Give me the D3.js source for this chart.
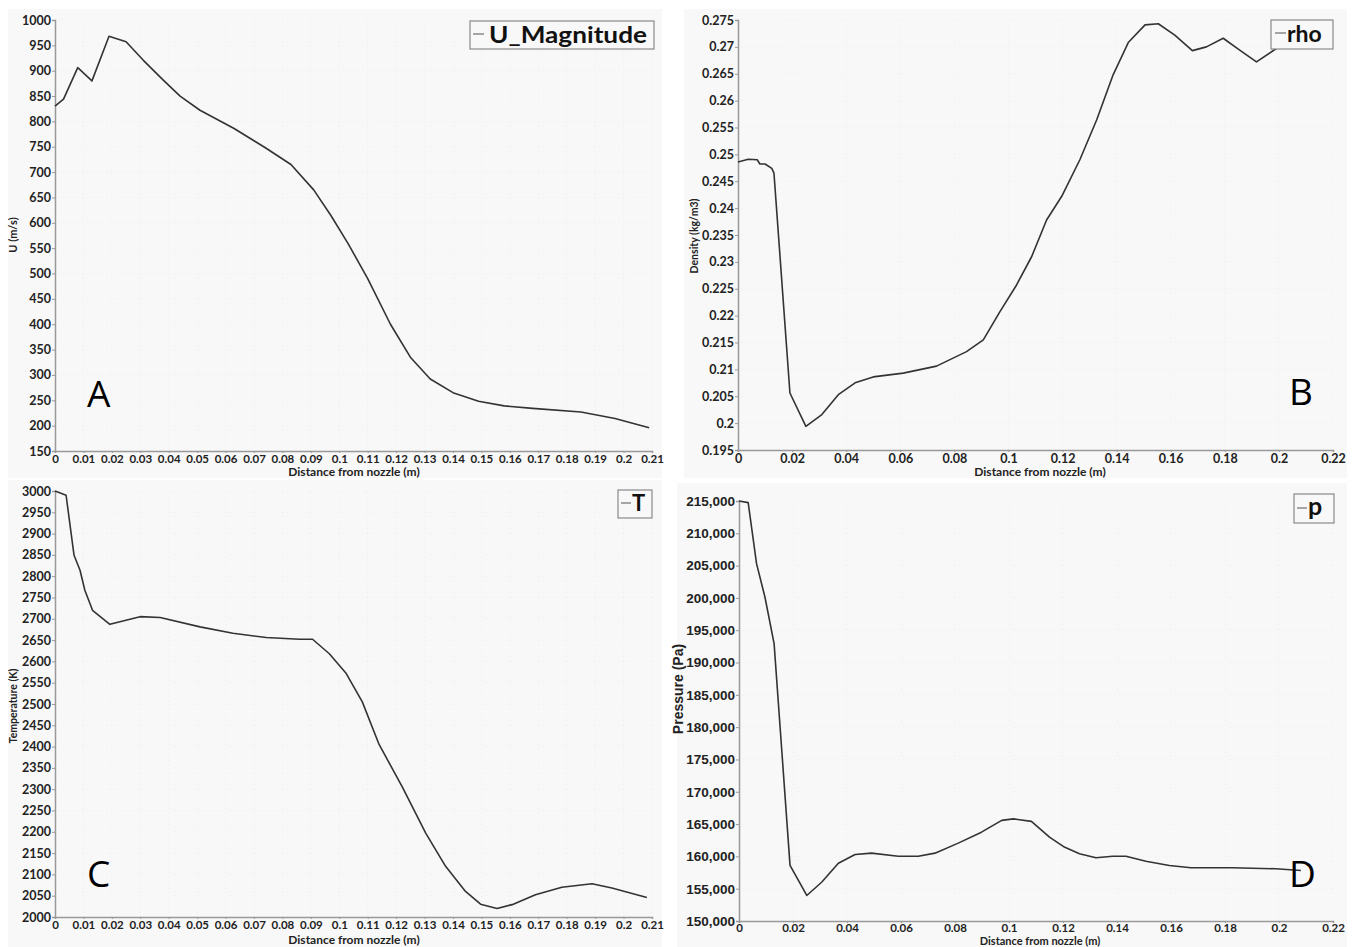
<!DOCTYPE html>
<html>
<head>
<meta charset="utf-8">
<script src="https://cdn.jsdelivr.net/npm/d3@7"></script>
<style>
  body { margin: 0; background: #fff; }
  svg { display: block; }
  .tick text { font-family: Lato, sans-serif; font-weight: bold; fill: #222; }
  .domain, .tick line { stroke: #999; }
</style>
</head>
<body>
<svg width="1357" height="947"></svg>
<script>
// Velocity magnitude (A)
const uX = [0, 0.003, 0.008, 0.013, 0.019, 0.025, 0.031, 0.038, 0.044, 0.051, 0.063, 0.074, 0.083, 0.091, 0.097, 0.103, 0.110, 0.118, 0.125, 0.132, 0.140, 0.149, 0.158, 0.168, 0.185, 0.197, 0.209];
const uVal = [830, 844, 906, 880, 968, 957, 921, 882, 850, 822, 786, 748, 715, 665, 615, 560, 490, 400, 335, 292, 265, 248, 239, 234, 227, 214, 196];

// Density (B)
const rhoX = [0, 0.0038, 0.0071, 0.0081, 0.010, 0.0125, 0.0133, 0.0192, 0.0251, 0.031, 0.0371, 0.0433, 0.050, 0.0611, 0.0734, 0.0845, 0.0907, 0.0968, 0.103, 0.1086, 0.1141, 0.1197, 0.1264, 0.1326, 0.1387, 0.1443, 0.1505, 0.1554, 0.1615, 0.168, 0.1732, 0.1794, 0.1855, 0.1917, 0.1991, 0.209];
const rhoVal = [0.2486, 0.2491, 0.249, 0.2482, 0.2482, 0.2474, 0.2465, 0.2056, 0.1994, 0.2016, 0.2053, 0.2075, 0.2086, 0.2093, 0.2106, 0.2133, 0.2155, 0.2207, 0.2257, 0.231, 0.2378, 0.2422, 0.249, 0.2564, 0.2648, 0.2708, 0.2741, 0.2743, 0.2722, 0.2693, 0.270, 0.2716, 0.2694, 0.2672, 0.2697, 0.2715];

// Temperature (C)
const tX = [0, 0.0039, 0.0067, 0.0088, 0.0105, 0.0132, 0.0193, 0.0299, 0.037, 0.051, 0.0626, 0.0743, 0.086, 0.0906, 0.0965, 0.1023, 0.1081, 0.114, 0.1222, 0.1304, 0.1374, 0.1444, 0.1497, 0.1555, 0.1608, 0.169, 0.1783, 0.1889, 0.1959, 0.2082];
const tVal = [3000, 2990, 2849, 2814, 2767, 2720, 2687, 2705, 2703, 2681, 2666, 2656, 2652, 2652, 2618, 2573, 2505, 2405, 2305, 2197, 2119, 2060, 2030, 2020, 2029, 2052, 2070, 2078, 2068, 2046];

// Pressure (D)
const pX = [0, 0.0034, 0.0065, 0.0096, 0.013, 0.0189, 0.0251, 0.0306, 0.0368, 0.043, 0.0491, 0.059, 0.0664, 0.0726, 0.0812, 0.0898, 0.0973, 0.1016, 0.1083, 0.115, 0.1205, 0.1261, 0.1322, 0.1384, 0.1433, 0.1507, 0.1594, 0.1674, 0.1828, 0.1988, 0.2081];
const pVal = [215000, 214750, 205300, 200140, 192930, 158600, 153950, 156000, 158950, 160300, 160500, 160030, 160030, 160500, 162050, 163750, 165570, 165800, 165420, 162990, 161440, 160400, 159780, 160030, 160030, 159260, 158600, 158240, 158240, 158080, 157820];

// tick values
const ticks21 = d3.range(0, 22).map(i => i / 100);
const ticks22 = d3.range(0, 12).map(i => i * 2 / 100);
const uTicks = d3.range(150, 1001, 50);
const rhoTicks = d3.range(0, 17).map(i => 0.195 + i * 0.005);
const tTicks = d3.range(2000, 3001, 50);
const pTicks = d3.range(150000, 215001, 5000);

const svg = d3.select("svg");
const bg = "#f8f8f8";

function drawPanel(c) {
  const g = svg.append("g");
  g.append("rect").attr("x", c.box[0]).attr("y", c.box[1])
    .attr("width", c.box[2] - c.box[0]).attr("height", c.box[3] - c.box[1])
    .attr("fill", bg);

  const x = d3.scaleLinear().domain(c.xDomain).range(c.xRange);
  const y = d3.scaleLinear().domain(c.yDomain).range(c.yRange);

  // faint grid
  g.append("g").selectAll("line").data(c.xTicks.slice(1)).join("line")
    .attr("x1", d => x(d)).attr("x2", d => x(d))
    .attr("y1", c.yRange[0]).attr("y2", c.yRange[1])
    .attr("stroke", "#eeeeee").attr("stroke-dasharray", "1,3");
  g.append("g").selectAll("line").data(c.yTicks.slice(1)).join("line")
    .attr("x1", c.xRange[0]).attr("x2", c.xRange[1])
    .attr("y1", d => y(d)).attr("y2", d => y(d))
    .attr("stroke", "#eeeeee").attr("stroke-dasharray", "1,3");

  const xa = g.append("g").attr("transform", `translate(0,${c.yRange[0]})`)
    .call(d3.axisBottom(x).tickValues(c.xTicks).tickSize(2).tickPadding(c.xPad || 2)
      .tickFormat(d => String(+d.toFixed(3))));
  xa.selectAll(".tick text").attr("font-size", c.xFont || 12.5);
  xa.select(".domain").attr("stroke-width", 1.5);

  const ya = g.append("g").attr("transform", `translate(${c.xRange[0]},0)`)
    .call(d3.axisLeft(y).tickValues(c.yTicks).tickSize(3).tickPadding(1)
      .tickFormat(c.yFormat));
  ya.select(".domain").attr("stroke-width", 1.5);
  ya.selectAll(".tick text").attr("font-size", c.yFont || 12.5)
    .style("font-family", c.yFamily || null);

  // line
  const pts = c.xs.map((v, i) => [v, c.ys[i]]);
  g.append("path").datum(pts)
    .attr("d", d3.line().x(d => x(d[0])).y(d => y(d[1])))
    .attr("fill", "none").attr("stroke", "#333").attr("stroke-width", 1.6)
    .attr("stroke-linejoin", "round");

  // titles
  g.append("text").attr("x", c.xTitle[0]).attr("y", c.xTitle[1])
    .attr("text-anchor", "middle").attr("font-family", "Lato, sans-serif")
    .attr("font-weight", "bold").attr("font-size", c.xTitleSize || 12).attr("fill", "#222")
    .text("Distance from nozzle (m)");
  g.append("text")
    .attr("transform", `translate(${c.yTitle[0]},${c.yTitle[1]}) rotate(-90)`)
    .attr("text-anchor", "middle")
    .attr("font-family", c.yTitleFamily || "Lato, sans-serif")
    .attr("font-weight", "bold").attr("font-size", c.yTitleSize || 11).attr("fill", "#222")
    .text(c.yLabel);

  // legend
  const L = c.legend;
  g.append("rect").attr("x", L.box[0]).attr("y", L.box[1])
    .attr("width", L.box[2] - L.box[0]).attr("height", L.box[3] - L.box[1])
    .attr("fill", bg).attr("stroke", "#8a8a8a").attr("stroke-width", 1.2);
  g.append("line").attr("x1", L.line[0]).attr("x2", L.line[1])
    .attr("y1", L.line[2]).attr("y2", L.line[2])
    .attr("stroke", "#888").attr("stroke-width", 1.5);
  const lt = g.append("text").attr("x", L.text[0]).attr("y", L.text[1])
    .attr("font-family", "Lato, sans-serif").attr("font-weight", "bold")
    .attr("font-size", L.size).attr("fill", "#111")
    .text(L.label);
  if (L.width) lt.attr("textLength", L.width).attr("lengthAdjust", "spacingAndGlyphs");

  // panel letter
  g.append("text").attr("x", c.letter[0]).attr("y", c.letter[1])
    .attr("font-family", "'Open Sans', sans-serif").attr("font-size", 37)
    .attr("fill", "#000").text(c.letter[2]);
}

drawPanel({
  box: [8, 9, 662, 478],
  xDomain: [0, 0.21], xRange: [55, 652], xFont: 11.5,
  yDomain: [150, 1000], yRange: [451, 20],
  xTicks: ticks21, yTicks: uTicks, yFormat: d => d,
  xs: uX, ys: uVal,
  xTitle: [354, 476], yTitle: [17, 235], yLabel: "U (m/s)",
  legend: { box: [470, 21, 654, 49], line: [473, 484, 34], text: [489, 43], size: 22, width: 158, label: "U_Magnitude" },
  letter: [87, 407, "A"]
});

drawPanel({
  box: [684, 9, 1347, 478],
  xDomain: [0, 0.22], xRange: [738, 1333],
  yDomain: [0.195, 0.275], yRange: [450, 20],
  xTicks: ticks22, yTicks: rhoTicks, yFormat: d => String(+d.toFixed(3)),
  xs: rhoX, ys: rhoVal,
  xTitle: [1040, 476], yTitle: [698, 236], yLabel: "Density (kg/m3)", yTitleSize: 10.5,
  legend: { box: [1271, 20, 1333, 49], line: [1275, 1286, 33], text: [1287, 42], size: 23, label: "rho" },
  letter: [1289, 405, "B"]
});

drawPanel({
  box: [8, 480, 662, 947],
  xDomain: [0, 0.21], xRange: [55, 652], xFont: 11.5,
  yDomain: [2000, 3000], yRange: [917, 491],
  xTicks: ticks21, yTicks: tTicks, yFormat: d => d,
  xs: tX, ys: tVal,
  xTitle: [354, 944], yTitle: [17, 706], yLabel: "Temperature (K)", yTitleSize: 10.5,
  legend: { box: [618, 490, 652, 518], line: [621, 631, 503], text: [632, 511], size: 22, label: "T" },
  letter: [87, 887, "C"]
});

drawPanel({
  box: [677, 483, 1347, 947],
  xDomain: [0, 0.22], xRange: [739, 1333], xFont: 11.5, xPad: 1,
  yDomain: [150000, 215000], yRange: [921, 501],
  xTicks: ticks22, yTicks: pTicks, yFormat: d3.format(","),
  yFont: 13.5, yFamily: "'Liberation Sans', Arial, sans-serif",
  xs: pX, ys: pVal,
  xTitle: [1040, 945], xTitleSize: 11, yTitle: [683, 689], yLabel: "Pressure (Pa)",
  yTitleSize: 14, yTitleFamily: "'Liberation Sans', Arial, sans-serif",
  legend: { box: [1294, 494, 1334, 523], line: [1297, 1307, 508], text: [1308, 515], size: 25, label: "p" },
  letter: [1289, 887, "D"]
});
</script>
</body>
</html>
